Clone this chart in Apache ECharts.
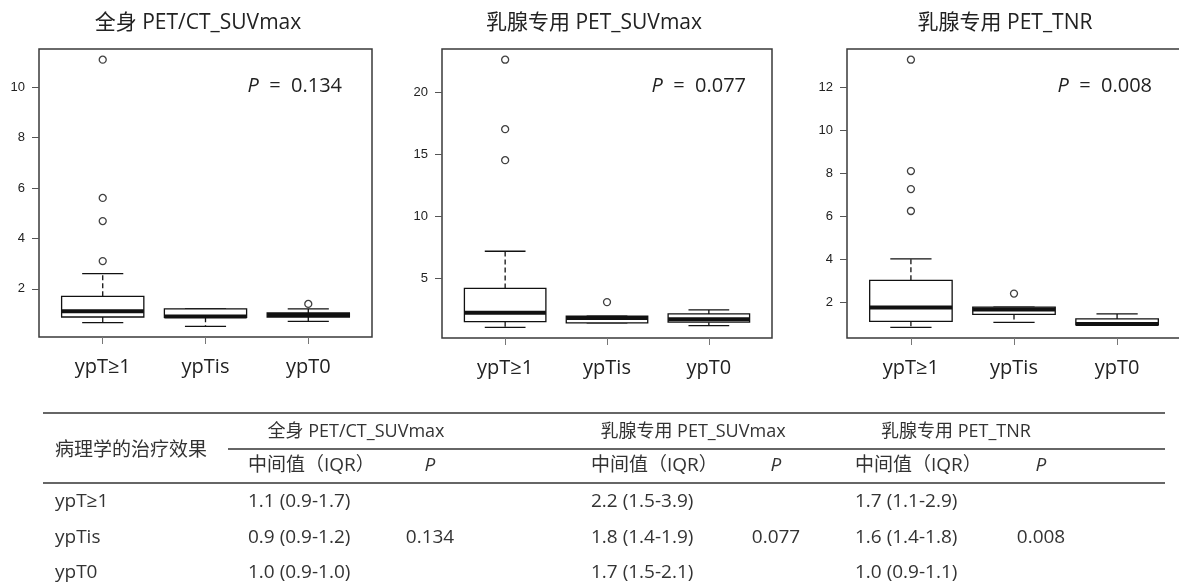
<!DOCTYPE html>
<html><head><meta charset="utf-8">
<script src="https://cdn.jsdelivr.net/npm/echarts@6/dist/echarts.min.js"></script>
<style>html,body{margin:0;padding:0;background:#fff}#c{width:1179px;height:585px}</style>
</head><body><div id="c"></div>
<script>
// ---------- data ----------
const categories = ['ypT≥1', 'ypTis', 'ypT0'];
const panelTitles = ['全身 PET/CT_SUVmax', '乳腺专用 PET_SUVmax', '乳腺专用 PET_TNR'];
const panelP = ['0.134', '0.077', '0.008'];

// each box: [lower whisker, Q1, median, Q3, upper whisker]
const boxWholeBodySUV = [[0.66, 0.88, 1.11, 1.70, 2.60], [0.51, 0.87, 0.90, 1.20, 1.20], [0.71, 0.88, 0.96, 1.04, 1.20]];
const boxBreastSUV    = [[1.03, 1.48, 2.21, 4.16, 7.16], [1.38, 1.38, 1.78, 1.92, 1.92], [1.16, 1.44, 1.68, 2.11, 2.43]];
const boxBreastTNR    = [[0.83, 1.11, 1.75, 3.02, 4.02], [1.06, 1.43, 1.66, 1.77, 1.77], [0.94, 0.94, 0.98, 1.22, 1.46]];

// outliers: [category number (1..3), value]
const outWholeBodySUV = [[1, 3.1], [1, 4.69], [1, 5.61], [1, 11.1], [3, 1.40]];
const outBreastSUV    = [[1, 14.5], [1, 17.0], [1, 22.6], [2, 3.06]];
const outBreastTNR    = [[1, 6.25], [1, 7.27], [1, 8.11], [1, 13.3], [2, 2.40]];

const yTicksWholeBodySUV = [2, 4, 6, 8, 10];
const yTicksBreastSUV    = [5, 10, 15, 20];
const yTicksBreastTNR    = [2, 4, 6, 8, 10, 12];

// table
const tableStubHeader = '病理学的治疗效果';
const tableSubHeaderMedian = '中间值（IQR）';
const tableSubHeaderP = 'P';
const tableRows = ['ypT≥1', 'ypTis', 'ypT0'];
const tableMedianIQR = [
  ['1.1 (0.9-1.7)', '0.9 (0.9-1.2)', '1.0 (0.9-1.0)'],
  ['2.2 (1.5-3.9)', '1.8 (1.4-1.9)', '1.7 (1.5-2.1)'],
  ['1.7 (1.1-2.9)', '1.6 (1.4-1.8)', '1.0 (0.9-1.1)']
];
const tableP = ['0.134', '0.077', '0.008'];

// ---------- layout / style ----------
const FONT = '"Open Sans", "Noto Sans CJK SC", sans-serif';
const panels = [
  { boxes: boxWholeBodySUV, outs: outWholeBodySUV, ticks: yTicksWholeBodySUV, grid: { left: 39, top: 49, width: 333, height: 288 }, titleX: 193, pX: 342 },
  { boxes: boxBreastSUV,    outs: outBreastSUV,    ticks: yTicksBreastSUV,    grid: { left: 442, top: 49, width: 330, height: 289 }, titleX: 589, pX: 746 },
  { boxes: boxBreastTNR,    outs: outBreastTNR,    ticks: yTicksBreastTNR,    grid: { left: 847, top: 49, width: 334, height: 289 }, titleX: 1000, pX: 1152 }
];

function yExtent(boxes, outs) {
  let lo = Infinity, hi = -Infinity;
  boxes.forEach(b => { lo = Math.min(lo, b[0]); hi = Math.max(hi, b[4]); });
  outs.forEach(o => { lo = Math.min(lo, o[1]); hi = Math.max(hi, o[1]); });
  const pad = (hi - lo) * 0.04;
  return [lo - pad, hi + pad];
}

function renderBox(params, api) {
  const x = api.value(0);
  const p = [1, 2, 3, 4, 5].map(i => api.coord([x, api.value(i)]));
  const cx = p[0][0];
  const bw = api.size([0.8, 0])[0];
  const h = bw / 2, c = bw / 4;
  const yMin = p[0][1], yQ1 = p[1][1], yMed = p[2][1], yQ3 = p[3][1], yMax = p[4][1];
  const st = { stroke: '#111', lineWidth: 1.3, fill: null };
  const ch = [];
  if (yMax < yQ3 - 0.5) ch.push({ type: 'line', shape: { x1: cx, y1: yQ3, x2: cx, y2: yMax }, style: Object.assign({}, st, { lineDash: [5, 3] }) });
  if (yMin > yQ1 + 0.5) ch.push({ type: 'line', shape: { x1: cx, y1: yQ1, x2: cx, y2: yMin }, style: Object.assign({}, st, { lineDash: [5, 3] }) });
  ch.push({ type: 'line', shape: { x1: cx - c, y1: yMax, x2: cx + c, y2: yMax }, style: st });
  ch.push({ type: 'line', shape: { x1: cx - c, y1: yMin, x2: cx + c, y2: yMin }, style: st });
  ch.push({ type: 'rect', shape: { x: cx - h, y: yQ3, width: bw, height: yQ1 - yQ3 }, style: { fill: '#fff', stroke: '#111', lineWidth: 1.3 } });
  ch.push({ type: 'line', shape: { x1: cx - h, y1: yMed, x2: cx + h, y2: yMed }, style: { stroke: '#111', lineWidth: 4 } });
  return { type: 'group', children: ch };
}

const grids = [], xAxes = [], yAxes = [], series = [], titles = [], graphics = [];
panels.forEach((pn, i) => {
  grids.push(Object.assign({ show: true, borderColor: '#3a3a3a', borderWidth: 1.5, backgroundColor: 'transparent', outerBoundsMode: 'none' }, pn.grid));
  xAxes.push({
    type: 'value', gridIndex: i, min: 0.38, max: 3.62,
    axisLine: { show: false }, splitLine: { show: false },
    axisTick: { show: true, customValues: [1, 2, 3], length: 7, lineStyle: { color: '#777', width: 1 } },
    axisLabel: { customValues: [1, 2, 3], formatter: v => categories[Math.round(v) - 1], margin: 20, fontSize: 20, color: '#222', fontFamily: FONT }
  });
  const ext = yExtent(pn.boxes, pn.outs);
  yAxes.push({
    type: 'value', gridIndex: i, min: ext[0], max: ext[1],
    axisLine: { show: false }, splitLine: { show: false },
    axisTick: { show: true, customValues: pn.ticks, length: 7, lineStyle: { color: '#555', width: 1 } },
    axisLabel: { customValues: pn.ticks, margin: 14, fontSize: 13, color: '#222', fontFamily: '"Liberation Sans", Arial, sans-serif' }
  });
  series.push({
    type: 'custom', xAxisIndex: i, yAxisIndex: i,
    data: pn.boxes.map((b, k) => [k + 1].concat(b)),
    encode: { x: 0, y: [1, 2, 3, 4, 5] },
    renderItem: renderBox, silent: true, z: 2
  });
  series.push({
    type: 'scatter', xAxisIndex: i, yAxisIndex: i, data: pn.outs,
    symbol: 'circle', symbolSize: 7, z: 3, silent: true,
    itemStyle: { color: '#fff', borderColor: '#111', borderWidth: 1.3 }
  });
  titles.push({ text: panelTitles[i], left: pn.titleX, top: 8, textAlign: 'center', textStyle: { fontSize: 21, fontWeight: 'normal', color: '#222', fontFamily: FONT } });
  graphics.push({
    type: 'text', x: pn.pX, y: 86,
    style: { text: '{i|P}  =  ' + panelP[i], align: 'right', verticalAlign: 'middle', fill: '#222', font: '20px ' + FONT,
      rich: { i: { fontStyle: 'italic', fontSize: 20, fontFamily: FONT, fill: '#222' } } }
  });
});

// ---------- table ----------
const TC = '#333', TF = 19;
const lineStyle = { stroke: '#333', lineWidth: 1.3 };
graphics.push({ type: 'line', shape: { x1: 43, y1: 413, x2: 1165, y2: 413 }, style: lineStyle });
graphics.push({ type: 'line', shape: { x1: 228, y1: 449, x2: 1165, y2: 449 }, style: lineStyle });
graphics.push({ type: 'line', shape: { x1: 43, y1: 483, x2: 1165, y2: 483 }, style: lineStyle });
function tText(t, x, y, align, italic, size) {
  graphics.push({ type: 'text', x: x, y: y, style: { text: t, align: align, verticalAlign: 'middle', fill: TC, font: (italic ? 'italic ' : '') + (size || TF) + 'px ' + FONT } });
}
tText(tableStubHeader, 55, 451, 'left');
const groupCenters = [356, 693, 956], medLeft = [248, 591, 855], pCenters = [430, 776, 1041];
const rowY = [502, 538, 573];
panelTitles.forEach((g, j) => {
  tText(g, groupCenters[j], 432, 'center', false, 18);
  tText(tableSubHeaderMedian, medLeft[j], 466, 'left');
  tText(tableSubHeaderP, pCenters[j], 466, 'center', true);
  tableMedianIQR[j].forEach((v, r) => tText(v, medLeft[j], rowY[r], 'left'));
  tText(tableP[j], pCenters[j], rowY[1], 'center');
});
tableRows.forEach((r, k) => tText(r, 55, rowY[k], 'left'));

const chart = echarts.init(document.getElementById('c'), null, { renderer: 'canvas' });
chart.setOption({
  animation: false,
  backgroundColor: '#fff',
  title: titles,
  grid: grids, xAxis: xAxes, yAxis: yAxes, series: series,
  graphic: graphics
});
</script></body></html>
